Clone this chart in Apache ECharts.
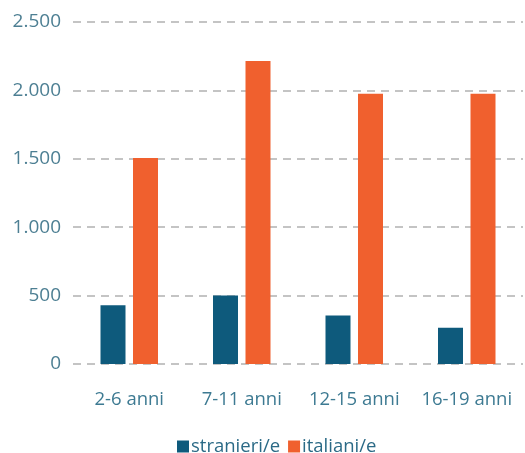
<!DOCTYPE html>
<html><head><meta charset="utf-8">
<script src="https://cdn.jsdelivr.net/npm/echarts@6/dist/echarts.min.js"></script>
<style>html,body{margin:0;padding:0;background:#fff}#c{width:525px;height:453px}</style>
</head><body><div id="c"></div>
<script>
const categories = ['2-6 anni', '7-11 anni', '12-15 anni', '16-19 anni'];
const stranieri = [430, 500, 355, 265];
const italiani = [1505, 2215, 1975, 1975];
const seriesNames = ['stranieri/e', 'italiani/e'];

const chart = echarts.init(document.getElementById('c'));
const font = '"Open Sans", sans-serif';
chart.setOption({
  animation: false,
  textStyle: { fontFamily: font },
  grid: { left: 73, right: 2, top: 22, bottom: 89, containLabel: false },
  legend: {
    top: 437, left: 177, padding: 0,
    itemWidth: 12, itemHeight: 12, itemGap: 8,
    icon: 'rect',
    textStyle: { fontFamily: font, fontSize: 18.5, color: '#2b6a86', padding: [0, 0, 0, -3] },
    data: seriesNames
  },
  xAxis: {
    type: 'category', data: categories,
    axisLine: { show: false }, axisTick: { show: false },
    axisLabel: { interval: 0, fontFamily: font, fontSize: 18.5, color: '#3d7a92', margin: 26 }
  },
  yAxis: {
    type: 'value', min: 0, max: 2500, interval: 500,
    axisLine: { show: false }, axisTick: { show: false },
    axisLabel: {
      fontFamily: font, fontSize: 19, color: '#4d7f93', margin: 12,
      formatter: v => v.toLocaleString('de-DE')
    },
    splitLine: { lineStyle: { type: [8, 6], color: '#c4c4c4', width: 2 } }
  },
  series: [
    { name: seriesNames[0], type: 'bar', data: stranieri, barWidth: 25, barGap: '30%',
      itemStyle: { color: '#0e5a7c' } },
    { name: seriesNames[1], type: 'bar', data: italiani, barWidth: 25,
      itemStyle: { color: '#f0602e' } }
  ]
});
</script></body></html>
